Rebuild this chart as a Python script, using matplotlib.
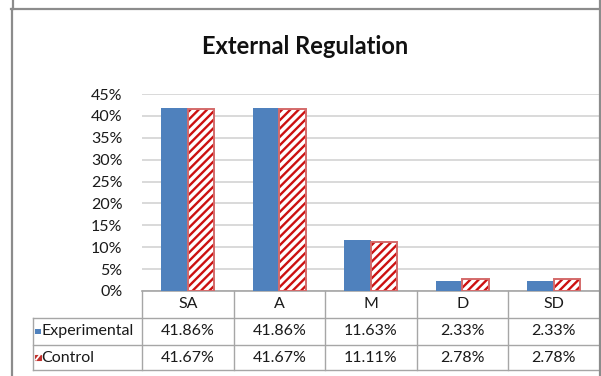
import matplotlib
matplotlib.use("Agg")
import matplotlib.pyplot as plt
from matplotlib.patches import Rectangle
from matplotlib.lines import Line2D
from matplotlib.transforms import blended_transform_factory

# ---- data ----
categories = ["SA", "A", "M", "D", "SD"]
series_names = ["Experimental", "Control"]
experimental = [41.86, 41.86, 11.63, 2.33, 2.33]
control = [41.67, 41.67, 11.11, 2.78, 2.78]
y_ticks = [0, 5, 10, 15, 20, 25, 30, 35, 40, 45]
title = "External Regulation"

W, H = 601, 376
plt.rcParams["font.family"] = ["Lato", "DejaVu Sans"]
plt.rcParams["hatch.linewidth"] = 1.7

fig = plt.figure(figsize=(W / 100, H / 100), dpi=100)
fig.patch.set_facecolor("white")


def fx(px):
    return px / W


def fy(py):
    return 1 - py / H


# plot area
ax_left, ax_right, ax_top, ax_bottom = 142, 599.5, 94, 291
ax = fig.add_axes([fx(ax_left), fy(ax_bottom), fx(ax_right - ax_left), (ax_bottom - ax_top) / H])
ax.set_xlim(-0.5, len(categories) - 0.5)
ax.set_ylim(0, 45)

blue = "#4f81bd"
hatch_red = "#cc1111"
edge_red = "#d46a6a"
bw = 0.29
xs = list(range(len(categories)))

ax.bar([x - bw / 2 for x in xs], experimental, width=bw, color=blue, linewidth=0, zorder=3)
ax.bar([x + bw / 2 for x in xs], control, width=bw, facecolor="white",
       edgecolor=hatch_red, hatch="////", linewidth=0, zorder=3)
ax.bar([x + bw / 2 for x in xs], control, width=bw, fill=False,
       edgecolor=edge_red, linewidth=1.4, zorder=4)

fs = 11.5
ax.set_yticks(y_ticks)
ax.set_yticklabels([f"{t}%" for t in y_ticks], fontsize=fs, color="#1a1a1a")
ax.tick_params(axis="y", length=0, pad=14)
ax.set_xticks([])
ax.yaxis.grid(True, color="#d9d9d9", linewidth=1.4, zorder=0)
for side in ["top", "right", "left"]:
    ax.spines[side].set_visible(False)
ax.spines["bottom"].set_color("#a6a6a6")
ax.spines["bottom"].set_linewidth(1.2)

# title
fig.text(fx(305), fy(46), title, ha="center", va="center",
         fontsize=17, fontweight="bold", color="#111111")

# data table under the axis
grid_c = "#a6a6a6"
row_lines = [ax_bottom, 317.7, 345, 370]
tbl_left = 33
tr = blended_transform_factory(ax.transData, fig.transFigure)

# vertical column lines at category boundaries
for b in [i - 0.5 for i in range(len(categories) + 1)]:
    fig.add_artist(Line2D([b, b], [fy(ax_bottom), fy(370)], transform=tr,
                          color=grid_c, linewidth=1.0))
# horizontal row lines
for ry in row_lines[1:]:
    fig.add_artist(Line2D([fx(tbl_left), fx(ax_right)], [fy(ry), fy(ry)],
                          transform=fig.transFigure, color=grid_c, linewidth=1.0))
fig.add_artist(Line2D([fx(tbl_left), fx(tbl_left)], [fy(317.7), fy(370)],
                      transform=fig.transFigure, color=grid_c, linewidth=1.0))

hdr_y = (row_lines[0] + row_lines[1]) / 2
exp_y = (row_lines[1] + row_lines[2]) / 2
con_y = (row_lines[2] + row_lines[3]) / 2
for i, c in enumerate(categories):
    ax.text(i, fy(hdr_y), c, transform=tr, ha="center", va="center", fontsize=fs, color="#1a1a1a")
    ax.text(i, fy(exp_y), f"{experimental[i]:.2f}%", transform=tr, ha="center", va="center",
            fontsize=fs, color="#1a1a1a")
    ax.text(i, fy(con_y), f"{control[i]:.2f}%", transform=tr, ha="center", va="center",
            fontsize=fs, color="#1a1a1a")

# legend keys inside the table
k = 5.5
fig.add_artist(Rectangle((fx(35), fy(exp_y + k / 2)), fx(k), k / H,
                         transform=fig.transFigure, facecolor=blue, linewidth=0))
fig.text(fx(41.5), fy(exp_y), series_names[0], ha="left", va="center", fontsize=fs, color="#1a1a1a")
fig.add_artist(Rectangle((fx(35), fy(con_y + k / 2)), fx(k), k / H,
                         transform=fig.transFigure, facecolor="#c0302c", edgecolor="#c0302c",
                         linewidth=0.8))
fig.add_artist(Line2D([fx(36), fx(39.5)], [fy(con_y + 2.2), fy(con_y - 2.2)],
                      transform=fig.transFigure, color="white", linewidth=1.3))
fig.text(fx(41.5), fy(con_y), series_names[1], ha="left", va="center", fontsize=fs, color="#1a1a1a")

# chart frame
frame_c = "#8c8c8c"
for xs_, ys_ in [([11, 600], [8.5, 8.5]), ([11.5, 11.5], [8.5, 376]), ([12.5, 12.5], [0, 8.5]),
                 ([599.5, 599.5], [0, 376])]:
    fig.add_artist(Line2D([fx(v) for v in xs_], [fy(v) for v in ys_],
                          transform=fig.transFigure, color=frame_c, linewidth=1.6))

fig.savefig("out.png", dpi=100, facecolor="white")
